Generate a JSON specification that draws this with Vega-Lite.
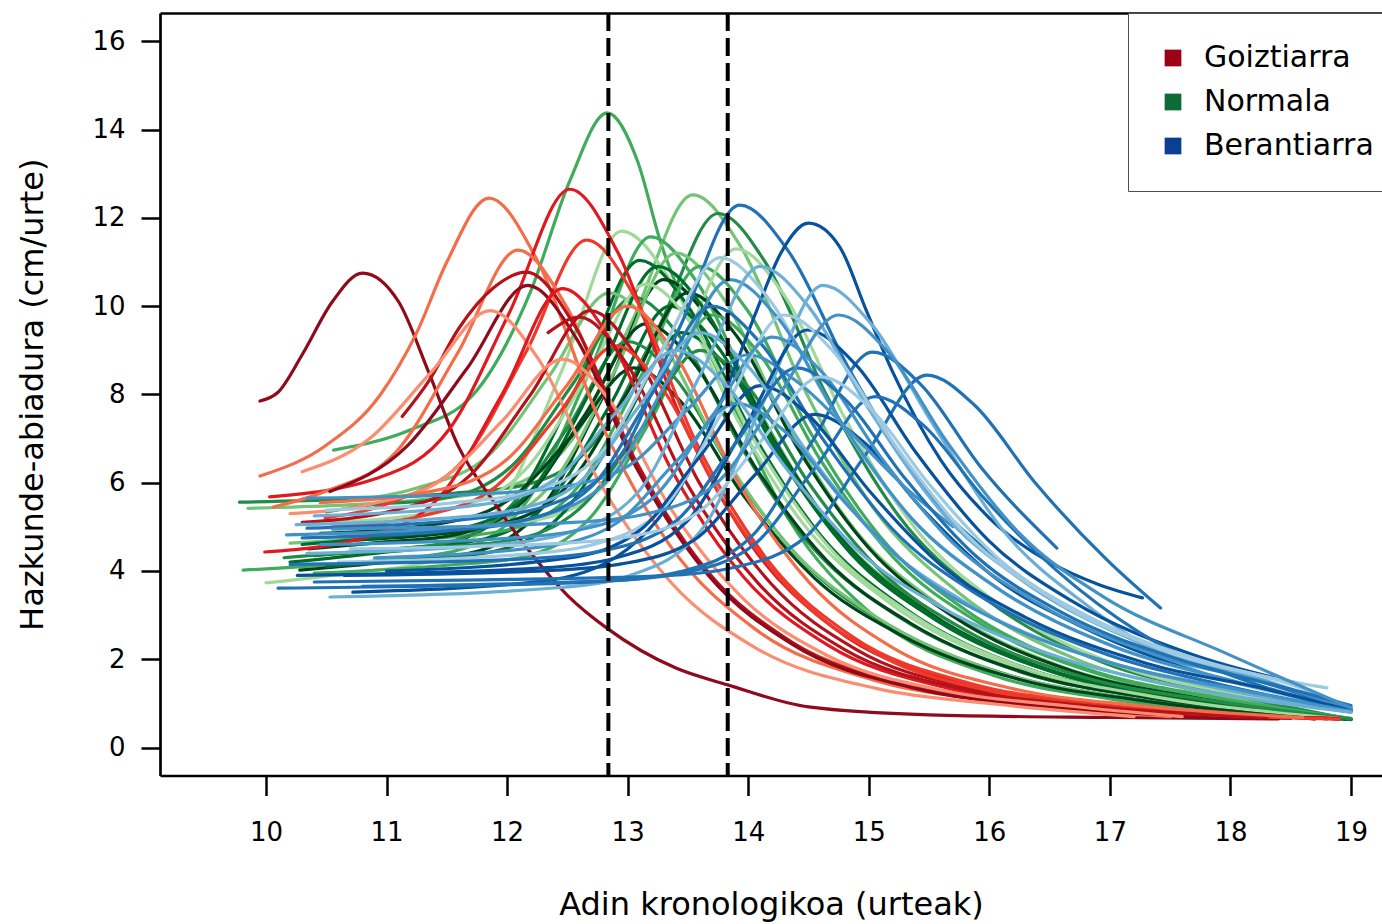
{
  "$schema": "https://vega.github.io/schema/vega-lite/v6.json",
  "width": 1222,
  "height": 762.5,
  "autosize": {"type": "none"},
  "padding": {"left": 160, "top": 13, "right": 0, "bottom": 148.5},
  "background": "white",
  "config": {"view": {"stroke": null}, "font": "DejaVu Sans"},
  "datasets": {
    "kurbak": [
      {"kurba":"G1","tonua":"n4","adina":10.56,"abiadura":6.74},{"kurba":"G1","tonua":"n4","adina":11.2,"abiadura":7.2},{"kurba":"G1","tonua":"n4","adina":11.72,"abiadura":8.0},{"kurba":"G1","tonua":"n4","adina":12.19,"abiadura":10.3},{"kurba":"G1","tonua":"n4","adina":12.52,"abiadura":12.84},{"kurba":"G1","tonua":"n4","adina":12.83,"abiadura":14.38},{"kurba":"G1","tonua":"n4","adina":13.08,"abiadura":13.3},{"kurba":"G1","tonua":"n4","adina":13.27,"abiadura":11.48},{"kurba":"G1","tonua":"n4","adina":13.73,"abiadura":8.63},{"kurba":"G1","tonua":"n4","adina":14.33,"abiadura":5.2},{"kurba":"G1","tonua":"n4","adina":15.03,"abiadura":3.01},{"kurba":"G1","tonua":"n4","adina":16.03,"abiadura":1.64},{"kurba":"G1","tonua":"n4","adina":17.03,"abiadura":1.09},{"kurba":"G1","tonua":"n4","adina":18.9,"abiadura":0.68},
      {"kurba":"G2","tonua":"n5","adina":9.85,"abiadura":5.42},{"kurba":"G2","tonua":"n5","adina":11.34,"abiadura":5.63},{"kurba":"G2","tonua":"n5","adina":11.94,"abiadura":5.85},{"kurba":"G2","tonua":"n5","adina":12.54,"abiadura":6.98},{"kurba":"G2","tonua":"n5","adina":13.04,"abiadura":9.68},{"kurba":"G2","tonua":"n5","adina":13.54,"abiadura":12.52},{"kurba":"G2","tonua":"n5","adina":13.94,"abiadura":11.34},{"kurba":"G2","tonua":"n5","adina":14.44,"abiadura":8.26},{"kurba":"G2","tonua":"n5","adina":15.04,"abiadura":5.42},{"kurba":"G2","tonua":"n5","adina":15.74,"abiadura":3.52},{"kurba":"G2","tonua":"n5","adina":16.74,"abiadura":1.98},{"kurba":"G2","tonua":"n5","adina":17.74,"abiadura":1.27},{"kurba":"G2","tonua":"n5","adina":19.0,"abiadura":0.65},
      {"kurba":"G3","tonua":"n3","adina":9.78,"abiadura":5.56},{"kurba":"G3","tonua":"n3","adina":11.55,"abiadura":5.76},{"kurba":"G3","tonua":"n3","adina":12.15,"abiadura":5.95},{"kurba":"G3","tonua":"n3","adina":12.75,"abiadura":7.0},{"kurba":"G3","tonua":"n3","adina":13.25,"abiadura":9.48},{"kurba":"G3","tonua":"n3","adina":13.75,"abiadura":12.1},{"kurba":"G3","tonua":"n3","adina":14.15,"abiadura":10.96},{"kurba":"G3","tonua":"n3","adina":14.65,"abiadura":7.98},{"kurba":"G3","tonua":"n3","adina":15.25,"abiadura":5.24},{"kurba":"G3","tonua":"n3","adina":15.95,"abiadura":3.41},{"kurba":"G3","tonua":"n3","adina":16.95,"abiadura":1.92},{"kurba":"G3","tonua":"n3","adina":17.95,"abiadura":1.23},{"kurba":"G3","tonua":"n3","adina":19.0,"abiadura":0.64},
      {"kurba":"G4","tonua":"n6","adina":10.0,"abiadura":3.73},{"kurba":"G4","tonua":"n6","adina":10.75,"abiadura":3.97},{"kurba":"G4","tonua":"n6","adina":11.35,"abiadura":4.21},{"kurba":"G4","tonua":"n6","adina":11.95,"abiadura":5.48},{"kurba":"G4","tonua":"n6","adina":12.45,"abiadura":8.51},{"kurba":"G4","tonua":"n6","adina":12.95,"abiadura":11.7},{"kurba":"G4","tonua":"n6","adina":13.35,"abiadura":10.6},{"kurba":"G4","tonua":"n6","adina":13.85,"abiadura":7.73},{"kurba":"G4","tonua":"n6","adina":14.45,"abiadura":5.09},{"kurba":"G4","tonua":"n6","adina":15.15,"abiadura":3.32},{"kurba":"G4","tonua":"n6","adina":16.15,"abiadura":1.89},{"kurba":"G4","tonua":"n6","adina":17.15,"abiadura":1.23},{"kurba":"G4","tonua":"n6","adina":18.8,"abiadura":0.68},
      {"kurba":"G5","tonua":"n4","adina":9.81,"abiadura":4.02},{"kurba":"G5","tonua":"n4","adina":10.99,"abiadura":4.25},{"kurba":"G5","tonua":"n4","adina":11.59,"abiadura":4.47},{"kurba":"G5","tonua":"n4","adina":12.19,"abiadura":5.68},{"kurba":"G5","tonua":"n4","adina":12.69,"abiadura":8.55},{"kurba":"G5","tonua":"n4","adina":13.19,"abiadura":11.57},{"kurba":"G5","tonua":"n4","adina":13.59,"abiadura":10.48},{"kurba":"G5","tonua":"n4","adina":14.09,"abiadura":7.64},{"kurba":"G5","tonua":"n4","adina":14.69,"abiadura":5.02},{"kurba":"G5","tonua":"n4","adina":15.39,"abiadura":3.28},{"kurba":"G5","tonua":"n4","adina":16.39,"abiadura":1.86},{"kurba":"G5","tonua":"n4","adina":17.39,"abiadura":1.21},{"kurba":"G5","tonua":"n4","adina":18.95,"abiadura":0.64},
      {"kurba":"G6","tonua":"n2","adina":10.2,"abiadura":4.2},{"kurba":"G6","tonua":"n2","adina":10.9,"abiadura":4.4},{"kurba":"G6","tonua":"n2","adina":11.5,"abiadura":4.61},{"kurba":"G6","tonua":"n2","adina":12.1,"abiadura":5.7},{"kurba":"G6","tonua":"n2","adina":12.6,"abiadura":8.3},{"kurba":"G6","tonua":"n2","adina":13.1,"abiadura":11.04},{"kurba":"G6","tonua":"n2","adina":13.5,"abiadura":10.0},{"kurba":"G6","tonua":"n2","adina":14.0,"abiadura":7.3},{"kurba":"G6","tonua":"n2","adina":14.6,"abiadura":4.81},{"kurba":"G6","tonua":"n2","adina":15.3,"abiadura":3.15},{"kurba":"G6","tonua":"n2","adina":16.3,"abiadura":1.8},{"kurba":"G6","tonua":"n2","adina":17.3,"abiadura":1.18},{"kurba":"G6","tonua":"n2","adina":18.9,"abiadura":0.64},
      {"kurba":"G7","tonua":"n1","adina":10.28,"abiadura":4.02},{"kurba":"G7","tonua":"n1","adina":11.1,"abiadura":4.22},{"kurba":"G7","tonua":"n1","adina":11.7,"abiadura":4.41},{"kurba":"G7","tonua":"n1","adina":12.3,"abiadura":5.47},{"kurba":"G7","tonua":"n1","adina":12.8,"abiadura":7.97},{"kurba":"G7","tonua":"n1","adina":13.3,"abiadura":10.6},{"kurba":"G7","tonua":"n1","adina":13.7,"abiadura":9.61},{"kurba":"G7","tonua":"n1","adina":14.2,"abiadura":7.02},{"kurba":"G7","tonua":"n1","adina":14.8,"abiadura":4.64},{"kurba":"G7","tonua":"n1","adina":15.5,"abiadura":3.05},{"kurba":"G7","tonua":"n1","adina":16.5,"abiadura":1.75},{"kurba":"G7","tonua":"n1","adina":17.5,"abiadura":1.16},{"kurba":"G7","tonua":"n1","adina":18.95,"abiadura":0.64},
      {"kurba":"G8","tonua":"n3","adina":10.5,"abiadura":5.34},{"kurba":"G8","tonua":"n3","adina":10.85,"abiadura":5.49},{"kurba":"G8","tonua":"n3","adina":11.45,"abiadura":5.63},{"kurba":"G8","tonua":"n3","adina":12.05,"abiadura":6.41},{"kurba":"G8","tonua":"n3","adina":12.55,"abiadura":8.26},{"kurba":"G8","tonua":"n3","adina":13.05,"abiadura":10.2},{"kurba":"G8","tonua":"n3","adina":13.45,"abiadura":9.25},{"kurba":"G8","tonua":"n3","adina":13.95,"abiadura":6.77},{"kurba":"G8","tonua":"n3","adina":14.55,"abiadura":4.48},{"kurba":"G8","tonua":"n3","adina":15.25,"abiadura":2.96},{"kurba":"G8","tonua":"n3","adina":16.25,"abiadura":1.72},{"kurba":"G8","tonua":"n3","adina":17.25,"abiadura":1.15},{"kurba":"G8","tonua":"n3","adina":18.9,"abiadura":0.65},
      {"kurba":"G9","tonua":"n5","adina":10.2,"abiadura":4.63},{"kurba":"G9","tonua":"n5","adina":11.2,"abiadura":4.83},{"kurba":"G9","tonua":"n5","adina":11.8,"abiadura":5.02},{"kurba":"G9","tonua":"n5","adina":12.4,"abiadura":6.08},{"kurba":"G9","tonua":"n5","adina":12.9,"abiadura":8.57},{"kurba":"G9","tonua":"n5","adina":13.4,"abiadura":11.2},{"kurba":"G9","tonua":"n5","adina":13.8,"abiadura":10.15},{"kurba":"G9","tonua":"n5","adina":14.3,"abiadura":7.41},{"kurba":"G9","tonua":"n5","adina":14.9,"abiadura":4.88},{"kurba":"G9","tonua":"n5","adina":15.6,"abiadura":3.2},{"kurba":"G9","tonua":"n5","adina":16.6,"abiadura":1.83},{"kurba":"G9","tonua":"n5","adina":17.6,"abiadura":1.2},{"kurba":"G9","tonua":"n5","adina":19.0,"abiadura":0.65},
      {"kurba":"G10","tonua":"n2","adina":10.4,"abiadura":4.35},{"kurba":"G10","tonua":"n2","adina":11.15,"abiadura":4.52},{"kurba":"G10","tonua":"n2","adina":11.75,"abiadura":4.69},{"kurba":"G10","tonua":"n2","adina":12.35,"abiadura":5.59},{"kurba":"G10","tonua":"n2","adina":12.85,"abiadura":7.74},{"kurba":"G10","tonua":"n2","adina":13.35,"abiadura":10.0},{"kurba":"G10","tonua":"n2","adina":13.75,"abiadura":9.07},{"kurba":"G10","tonua":"n2","adina":14.25,"abiadura":6.64},{"kurba":"G10","tonua":"n2","adina":14.85,"abiadura":4.4},{"kurba":"G10","tonua":"n2","adina":15.55,"abiadura":2.9},{"kurba":"G10","tonua":"n2","adina":16.55,"abiadura":1.69},{"kurba":"G10","tonua":"n2","adina":17.55,"abiadura":1.13},{"kurba":"G10","tonua":"n2","adina":18.9,"abiadura":0.64},
      {"kurba":"G11","tonua":"n4","adina":10.45,"abiadura":4.55},{"kurba":"G11","tonua":"n4","adina":11.4,"abiadura":4.74},{"kurba":"G11","tonua":"n4","adina":12.0,"abiadura":4.93},{"kurba":"G11","tonua":"n4","adina":12.6,"abiadura":5.95},{"kurba":"G11","tonua":"n4","adina":13.1,"abiadura":8.36},{"kurba":"G11","tonua":"n4","adina":13.6,"abiadura":10.9},{"kurba":"G11","tonua":"n4","adina":14.0,"abiadura":9.88},{"kurba":"G11","tonua":"n4","adina":14.5,"abiadura":7.21},{"kurba":"G11","tonua":"n4","adina":15.1,"abiadura":4.76},{"kurba":"G11","tonua":"n4","adina":15.8,"abiadura":3.12},{"kurba":"G11","tonua":"n4","adina":16.8,"abiadura":1.79},{"kurba":"G11","tonua":"n4","adina":17.8,"abiadura":1.17},{"kurba":"G11","tonua":"n4","adina":19.0,"abiadura":0.64},
      {"kurba":"G12","tonua":"n1","adina":10.35,"abiadura":4.5},{"kurba":"G12","tonua":"n1","adina":10.95,"abiadura":4.65},{"kurba":"G12","tonua":"n1","adina":11.55,"abiadura":4.81},{"kurba":"G12","tonua":"n1","adina":12.15,"abiadura":5.62},{"kurba":"G12","tonua":"n1","adina":12.65,"abiadura":7.56},{"kurba":"G12","tonua":"n1","adina":13.15,"abiadura":9.6},{"kurba":"G12","tonua":"n1","adina":13.55,"abiadura":8.71},{"kurba":"G12","tonua":"n1","adina":14.05,"abiadura":6.39},{"kurba":"G12","tonua":"n1","adina":14.65,"abiadura":4.24},{"kurba":"G12","tonua":"n1","adina":15.35,"abiadura":2.81},{"kurba":"G12","tonua":"n1","adina":16.35,"abiadura":1.65},{"kurba":"G12","tonua":"n1","adina":17.35,"abiadura":1.12},{"kurba":"G12","tonua":"n1","adina":18.8,"abiadura":0.65},
      {"kurba":"G13","tonua":"n6","adina":10.6,"abiadura":4.8},{"kurba":"G13","tonua":"n6","adina":11.7,"abiadura":5.0},{"kurba":"G13","tonua":"n6","adina":12.3,"abiadura":5.19},{"kurba":"G13","tonua":"n6","adina":12.9,"abiadura":6.23},{"kurba":"G13","tonua":"n6","adina":13.4,"abiadura":8.7},{"kurba":"G13","tonua":"n6","adina":13.9,"abiadura":11.3},{"kurba":"G13","tonua":"n6","adina":14.3,"abiadura":10.24},{"kurba":"G13","tonua":"n6","adina":14.8,"abiadura":7.47},{"kurba":"G13","tonua":"n6","adina":15.4,"abiadura":4.92},{"kurba":"G13","tonua":"n6","adina":16.1,"abiadura":3.21},{"kurba":"G13","tonua":"n6","adina":17.1,"abiadura":1.83},{"kurba":"G13","tonua":"n6","adina":18.1,"abiadura":1.19},{"kurba":"G13","tonua":"n6","adina":19.0,"abiadura":0.8},
      {"kurba":"G14","tonua":"n3","adina":10.15,"abiadura":4.3},{"kurba":"G14","tonua":"n3","adina":10.8,"abiadura":4.45},{"kurba":"G14","tonua":"n3","adina":11.4,"abiadura":4.59},{"kurba":"G14","tonua":"n3","adina":12.0,"abiadura":5.38},{"kurba":"G14","tonua":"n3","adina":12.5,"abiadura":7.24},{"kurba":"G14","tonua":"n3","adina":13.0,"abiadura":9.2},{"kurba":"G14","tonua":"n3","adina":13.4,"abiadura":8.35},{"kurba":"G14","tonua":"n3","adina":13.9,"abiadura":6.13},{"kurba":"G14","tonua":"n3","adina":14.5,"abiadura":4.08},{"kurba":"G14","tonua":"n3","adina":15.2,"abiadura":2.72},{"kurba":"G14","tonua":"n3","adina":16.2,"abiadura":1.61},{"kurba":"G14","tonua":"n3","adina":17.2,"abiadura":1.1},{"kurba":"G14","tonua":"n3","adina":18.7,"abiadura":0.65},
      {"kurba":"G15","tonua":"n2","adina":10.5,"abiadura":4.1},{"kurba":"G15","tonua":"n2","adina":11.25,"abiadura":4.26},{"kurba":"G15","tonua":"n2","adina":11.85,"abiadura":4.42},{"kurba":"G15","tonua":"n2","adina":12.45,"abiadura":5.27},{"kurba":"G15","tonua":"n2","adina":12.95,"abiadura":7.28},{"kurba":"G15","tonua":"n2","adina":13.45,"abiadura":9.4},{"kurba":"G15","tonua":"n2","adina":13.85,"abiadura":8.53},{"kurba":"G15","tonua":"n2","adina":14.35,"abiadura":6.25},{"kurba":"G15","tonua":"n2","adina":14.95,"abiadura":4.16},{"kurba":"G15","tonua":"n2","adina":15.65,"abiadura":2.76},{"kurba":"G15","tonua":"n2","adina":16.65,"abiadura":1.62},{"kurba":"G15","tonua":"n2","adina":17.65,"abiadura":1.1},{"kurba":"G15","tonua":"n2","adina":19.0,"abiadura":0.64},
      {"kurba":"G16","tonua":"n5","adina":10.7,"abiadura":5.6},{"kurba":"G16","tonua":"n5","adina":11.25,"abiadura":5.88},{"kurba":"G16","tonua":"n5","adina":11.85,"abiadura":6.63},{"kurba":"G16","tonua":"n5","adina":12.35,"abiadura":8.42},{"kurba":"G16","tonua":"n5","adina":12.85,"abiadura":10.3},{"kurba":"G16","tonua":"n5","adina":13.25,"abiadura":9.34},{"kurba":"G16","tonua":"n5","adina":13.75,"abiadura":6.83},{"kurba":"G16","tonua":"n5","adina":14.35,"abiadura":4.52},{"kurba":"G16","tonua":"n5","adina":15.05,"abiadura":2.98},{"kurba":"G16","tonua":"n5","adina":16.05,"abiadura":1.73},{"kurba":"G16","tonua":"n5","adina":17.05,"abiadura":1.15},{"kurba":"G16","tonua":"n5","adina":18.6,"abiadura":0.66},
      {"kurba":"G17","tonua":"n1","adina":10.75,"abiadura":4.7},{"kurba":"G17","tonua":"n1","adina":11.9,"abiadura":5.04},{"kurba":"G17","tonua":"n1","adina":12.5,"abiadura":5.93},{"kurba":"G17","tonua":"n1","adina":13.0,"abiadura":8.06},{"kurba":"G17","tonua":"n1","adina":13.5,"abiadura":10.3},{"kurba":"G17","tonua":"n1","adina":13.9,"abiadura":9.34},{"kurba":"G17","tonua":"n1","adina":14.4,"abiadura":6.83},{"kurba":"G17","tonua":"n1","adina":15.0,"abiadura":4.52},{"kurba":"G17","tonua":"n1","adina":15.7,"abiadura":2.97},{"kurba":"G17","tonua":"n1","adina":16.7,"abiadura":1.72},{"kurba":"G17","tonua":"n1","adina":17.7,"abiadura":1.14},{"kurba":"G17","tonua":"n1","adina":19.0,"abiadura":0.64},
      {"kurba":"G18","tonua":"n4","adina":10.4,"abiadura":3.95},{"kurba":"G18","tonua":"n4","adina":11.5,"abiadura":4.13},{"kurba":"G18","tonua":"n4","adina":12.1,"abiadura":4.3},{"kurba":"G18","tonua":"n4","adina":12.7,"abiadura":5.24},{"kurba":"G18","tonua":"n4","adina":13.2,"abiadura":7.46},{"kurba":"G18","tonua":"n4","adina":13.7,"abiadura":9.8},{"kurba":"G18","tonua":"n4","adina":14.1,"abiadura":8.89},{"kurba":"G18","tonua":"n4","adina":14.6,"abiadura":6.51},{"kurba":"G18","tonua":"n4","adina":15.2,"abiadura":4.32},{"kurba":"G18","tonua":"n4","adina":15.9,"abiadura":2.85},{"kurba":"G18","tonua":"n4","adina":16.9,"abiadura":1.67},{"kurba":"G18","tonua":"n4","adina":17.9,"abiadura":1.12},{"kurba":"G18","tonua":"n4","adina":19.0,"abiadura":0.66},
      {"kurba":"G19","tonua":"n2","adina":10.3,"abiadura":4.6},{"kurba":"G19","tonua":"n2","adina":11.05,"abiadura":4.79},{"kurba":"G19","tonua":"n2","adina":11.65,"abiadura":4.98},{"kurba":"G19","tonua":"n2","adina":12.25,"abiadura":5.99},{"kurba":"G19","tonua":"n2","adina":12.75,"abiadura":8.38},{"kurba":"G19","tonua":"n2","adina":13.25,"abiadura":10.9},{"kurba":"G19","tonua":"n2","adina":13.65,"abiadura":9.88},{"kurba":"G19","tonua":"n2","adina":14.15,"abiadura":7.21},{"kurba":"G19","tonua":"n2","adina":14.75,"abiadura":4.76},{"kurba":"G19","tonua":"n2","adina":15.45,"abiadura":3.12},{"kurba":"G19","tonua":"n2","adina":16.45,"abiadura":1.79},{"kurba":"G19","tonua":"n2","adina":17.45,"abiadura":1.17},{"kurba":"G19","tonua":"n2","adina":19.0,"abiadura":0.63},
      {"kurba":"G20","tonua":"n3","adina":10.65,"abiadura":4.4},{"kurba":"G20","tonua":"n3","adina":11.4,"abiadura":4.54},{"kurba":"G20","tonua":"n3","adina":12.0,"abiadura":4.68},{"kurba":"G20","tonua":"n3","adina":12.6,"abiadura":5.41},{"kurba":"G20","tonua":"n3","adina":13.1,"abiadura":7.16},{"kurba":"G20","tonua":"n3","adina":13.6,"abiadura":9.0},{"kurba":"G20","tonua":"n3","adina":14.0,"abiadura":8.17},{"kurba":"G20","tonua":"n3","adina":14.5,"abiadura":6.0},{"kurba":"G20","tonua":"n3","adina":15.1,"abiadura":4.0},{"kurba":"G20","tonua":"n3","adina":15.8,"abiadura":2.66},{"kurba":"G20","tonua":"n3","adina":16.8,"abiadura":1.58},{"kurba":"G20","tonua":"n3","adina":17.8,"abiadura":1.08},{"kurba":"G20","tonua":"n3","adina":19.0,"abiadura":0.65},
      {"kurba":"G21","tonua":"n6","adina":10.55,"abiadura":5.1},{"kurba":"G21","tonua":"n6","adina":11.55,"abiadura":5.42},{"kurba":"G21","tonua":"n6","adina":12.15,"abiadura":6.29},{"kurba":"G21","tonua":"n6","adina":12.65,"abiadura":8.34},{"kurba":"G21","tonua":"n6","adina":13.15,"abiadura":10.5},{"kurba":"G21","tonua":"n6","adina":13.55,"abiadura":9.52},{"kurba":"G21","tonua":"n6","adina":14.05,"abiadura":6.96},{"kurba":"G21","tonua":"n6","adina":14.65,"abiadura":4.6},{"kurba":"G21","tonua":"n6","adina":15.35,"abiadura":3.03},{"kurba":"G21","tonua":"n6","adina":16.35,"abiadura":1.75},{"kurba":"G21","tonua":"n6","adina":17.35,"abiadura":1.16},{"kurba":"G21","tonua":"n6","adina":18.9,"abiadura":0.66},
      {"kurba":"G22","tonua":"n1","adina":10.45,"abiadura":4.85},{"kurba":"G22","tonua":"n1","adina":11.45,"abiadura":5.08},{"kurba":"G22","tonua":"n1","adina":12.05,"abiadura":5.68},{"kurba":"G22","tonua":"n1","adina":12.55,"abiadura":7.1},{"kurba":"G22","tonua":"n1","adina":13.05,"abiadura":8.6},{"kurba":"G22","tonua":"n1","adina":13.45,"abiadura":7.81},{"kurba":"G22","tonua":"n1","adina":13.95,"abiadura":5.75},{"kurba":"G22","tonua":"n1","adina":14.55,"abiadura":3.84},{"kurba":"G22","tonua":"n1","adina":15.25,"abiadura":2.57},{"kurba":"G22","tonua":"n1","adina":16.25,"abiadura":1.54},{"kurba":"G22","tonua":"n1","adina":17.25,"abiadura":1.07},{"kurba":"G22","tonua":"n1","adina":18.7,"abiadura":0.65},

      {"kurba":"R1","tonua":"g1","adina":9.95,"abiadura":7.85},{"kurba":"R1","tonua":"g1","adina":10.1,"abiadura":8.05},{"kurba":"R1","tonua":"g1","adina":10.3,"abiadura":8.9},{"kurba":"R1","tonua":"g1","adina":10.55,"abiadura":10.1},{"kurba":"R1","tonua":"g1","adina":10.8,"abiadura":10.75},{"kurba":"R1","tonua":"g1","adina":11.1,"abiadura":10.1},{"kurba":"R1","tonua":"g1","adina":11.35,"abiadura":8.5},{"kurba":"R1","tonua":"g1","adina":11.6,"abiadura":6.8},{"kurba":"R1","tonua":"g1","adina":11.88,"abiadura":5.6},{"kurba":"R1","tonua":"g1","adina":12.19,"abiadura":4.43},{"kurba":"R1","tonua":"g1","adina":12.5,"abiadura":3.45},{"kurba":"R1","tonua":"g1","adina":12.83,"abiadura":2.7},{"kurba":"R1","tonua":"g1","adina":13.4,"abiadura":1.8},{"kurba":"R1","tonua":"g1","adina":13.83,"abiadura":1.42},{"kurba":"R1","tonua":"g1","adina":14.5,"abiadura":0.92},{"kurba":"R1","tonua":"g1","adina":15.5,"abiadura":0.74},{"kurba":"R1","tonua":"g1","adina":17.0,"abiadura":0.68},{"kurba":"R1","tonua":"g1","adina":18.4,"abiadura":0.65},
      {"kurba":"R2","tonua":"g5","adina":9.95,"abiadura":6.15},{"kurba":"R2","tonua":"g5","adina":10.5,"abiadura":6.85},{"kurba":"R2","tonua":"g5","adina":10.95,"abiadura":8.0},{"kurba":"R2","tonua":"g5","adina":11.25,"abiadura":9.4},{"kurba":"R2","tonua":"g5","adina":11.5,"abiadura":11.0},{"kurba":"R2","tonua":"g5","adina":11.85,"abiadura":12.45},{"kurba":"R2","tonua":"g5","adina":12.25,"abiadura":11.04},{"kurba":"R2","tonua":"g5","adina":12.75,"abiadura":7.52},{"kurba":"R2","tonua":"g5","adina":13.35,"abiadura":4.58},{"kurba":"R2","tonua":"g5","adina":14.05,"abiadura":2.7},{"kurba":"R2","tonua":"g5","adina":15.05,"abiadura":1.52},{"kurba":"R2","tonua":"g5","adina":16.05,"abiadura":1.05},{"kurba":"R2","tonua":"g5","adina":17.5,"abiadura":0.7},
      {"kurba":"R3","tonua":"g3","adina":10.03,"abiadura":5.68},{"kurba":"R3","tonua":"g3","adina":10.92,"abiadura":6.1},{"kurba":"R3","tonua":"g3","adina":11.52,"abiadura":7.21},{"kurba":"R3","tonua":"g3","adina":12.02,"abiadura":9.86},{"kurba":"R3","tonua":"g3","adina":12.52,"abiadura":12.65},{"kurba":"R3","tonua":"g3","adina":12.92,"abiadura":11.21},{"kurba":"R3","tonua":"g3","adina":13.42,"abiadura":7.61},{"kurba":"R3","tonua":"g3","adina":14.02,"abiadura":4.61},{"kurba":"R3","tonua":"g3","adina":14.72,"abiadura":2.69},{"kurba":"R3","tonua":"g3","adina":15.72,"abiadura":1.49},{"kurba":"R3","tonua":"g3","adina":16.72,"abiadura":1.01},{"kurba":"R3","tonua":"g3","adina":17.7,"abiadura":0.78},{"kurba":"R3","tonua":"g3","adina":18.9,"abiadura":0.65},
      {"kurba":"R4","tonua":"g4","adina":10.49,"abiadura":5.2},{"kurba":"R4","tonua":"g4","adina":11.06,"abiadura":5.58},{"kurba":"R4","tonua":"g4","adina":11.66,"abiadura":6.59},{"kurba":"R4","tonua":"g4","adina":12.16,"abiadura":8.98},{"kurba":"R4","tonua":"g4","adina":12.66,"abiadura":11.5},{"kurba":"R4","tonua":"g4","adina":13.06,"abiadura":10.2},{"kurba":"R4","tonua":"g4","adina":13.56,"abiadura":6.96},{"kurba":"R4","tonua":"g4","adina":14.16,"abiadura":4.25},{"kurba":"R4","tonua":"g4","adina":14.86,"abiadura":2.52},{"kurba":"R4","tonua":"g4","adina":15.86,"abiadura":1.44},{"kurba":"R4","tonua":"g4","adina":16.86,"abiadura":1.0},{"kurba":"R4","tonua":"g4","adina":18.6,"abiadura":0.68},
      {"kurba":"R5","tonua":"g5","adina":10.06,"abiadura":5.45},{"kurba":"R5","tonua":"g5","adina":10.49,"abiadura":5.8},{"kurba":"R5","tonua":"g5","adina":11.09,"abiadura":6.73},{"kurba":"R5","tonua":"g5","adina":11.59,"abiadura":8.94},{"kurba":"R5","tonua":"g5","adina":12.09,"abiadura":11.27},{"kurba":"R5","tonua":"g5","adina":12.49,"abiadura":10.0},{"kurba":"R5","tonua":"g5","adina":12.99,"abiadura":6.84},{"kurba":"R5","tonua":"g5","adina":13.59,"abiadura":4.2},{"kurba":"R5","tonua":"g5","adina":14.29,"abiadura":2.51},{"kurba":"R5","tonua":"g5","adina":15.29,"abiadura":1.46},{"kurba":"R5","tonua":"g5","adina":16.29,"abiadura":1.04},{"kurba":"R5","tonua":"g5","adina":17.8,"abiadura":0.72},
      {"kurba":"R6","tonua":"g2","adina":11.13,"abiadura":7.5},{"kurba":"R6","tonua":"g2","adina":11.35,"abiadura":8.3},{"kurba":"R6","tonua":"g2","adina":11.6,"abiadura":9.5},{"kurba":"R6","tonua":"g2","adina":11.88,"abiadura":10.4},{"kurba":"R6","tonua":"g2","adina":12.16,"abiadura":10.77},{"kurba":"R6","tonua":"g2","adina":12.56,"abiadura":9.56},{"kurba":"R6","tonua":"g2","adina":13.06,"abiadura":6.53},{"kurba":"R6","tonua":"g2","adina":13.66,"abiadura":4.0},{"kurba":"R6","tonua":"g2","adina":14.36,"abiadura":2.39},{"kurba":"R6","tonua":"g2","adina":15.36,"abiadura":1.38},{"kurba":"R6","tonua":"g2","adina":16.36,"abiadura":0.97},{"kurba":"R6","tonua":"g2","adina":18.2,"abiadura":0.67},
      {"kurba":"R7","tonua":"g1","adina":10.53,"abiadura":5.8},{"kurba":"R7","tonua":"g1","adina":11.17,"abiadura":6.83},{"kurba":"R7","tonua":"g1","adina":11.67,"abiadura":8.6},{"kurba":"R7","tonua":"g1","adina":12.17,"abiadura":10.47},{"kurba":"R7","tonua":"g1","adina":12.57,"abiadura":9.29},{"kurba":"R7","tonua":"g1","adina":13.07,"abiadura":6.35},{"kurba":"R7","tonua":"g1","adina":13.67,"abiadura":3.9},{"kurba":"R7","tonua":"g1","adina":14.37,"abiadura":2.33},{"kurba":"R7","tonua":"g1","adina":15.37,"abiadura":1.35},{"kurba":"R7","tonua":"g1","adina":16.37,"abiadura":0.95},{"kurba":"R7","tonua":"g1","adina":18.5,"abiadura":0.66},
      {"kurba":"R8","tonua":"g6","adina":10.3,"abiadura":6.25},{"kurba":"R8","tonua":"g6","adina":10.86,"abiadura":7.0},{"kurba":"R8","tonua":"g6","adina":11.36,"abiadura":8.47},{"kurba":"R8","tonua":"g6","adina":11.86,"abiadura":9.9},{"kurba":"R8","tonua":"g6","adina":12.26,"abiadura":8.8},{"kurba":"R8","tonua":"g6","adina":12.76,"abiadura":6.04},{"kurba":"R8","tonua":"g6","adina":13.36,"abiadura":3.74},{"kurba":"R8","tonua":"g6","adina":14.06,"abiadura":2.26},{"kurba":"R8","tonua":"g6","adina":15.06,"abiadura":1.34},{"kurba":"R8","tonua":"g6","adina":16.06,"abiadura":0.98},{"kurba":"R8","tonua":"g6","adina":17.2,"abiadura":0.7},
      {"kurba":"R9","tonua":"g3","adina":9.99,"abiadura":4.43},{"kurba":"R9","tonua":"g3","adina":10.86,"abiadura":4.79},{"kurba":"R9","tonua":"g3","adina":11.46,"abiadura":5.74},{"kurba":"R9","tonua":"g3","adina":11.96,"abiadura":8.01},{"kurba":"R9","tonua":"g3","adina":12.46,"abiadura":10.4},{"kurba":"R9","tonua":"g3","adina":12.86,"abiadura":9.23},{"kurba":"R9","tonua":"g3","adina":13.36,"abiadura":6.31},{"kurba":"R9","tonua":"g3","adina":13.96,"abiadura":3.87},{"kurba":"R9","tonua":"g3","adina":14.66,"abiadura":2.32},{"kurba":"R9","tonua":"g3","adina":15.66,"abiadura":1.34},{"kurba":"R9","tonua":"g3","adina":16.66,"abiadura":0.95},{"kurba":"R9","tonua":"g3","adina":18.9,"abiadura":0.66},
      {"kurba":"R10","tonua":"g2","adina":10.3,"abiadura":5.1},{"kurba":"R10","tonua":"g2","adina":11.09,"abiadura":5.39},{"kurba":"R10","tonua":"g2","adina":11.69,"abiadura":6.16},{"kurba":"R10","tonua":"g2","adina":12.19,"abiadura":7.98},{"kurba":"R10","tonua":"g2","adina":12.69,"abiadura":9.9},{"kurba":"R10","tonua":"g2","adina":13.09,"abiadura":8.79},{"kurba":"R10","tonua":"g2","adina":13.59,"abiadura":6.02},{"kurba":"R10","tonua":"g2","adina":14.19,"abiadura":3.71},{"kurba":"R10","tonua":"g2","adina":14.89,"abiadura":2.23},{"kurba":"R10","tonua":"g2","adina":15.89,"abiadura":1.31},{"kurba":"R10","tonua":"g2","adina":16.89,"abiadura":0.94},{"kurba":"R10","tonua":"g2","adina":18.8,"abiadura":0.66},
      {"kurba":"R11","tonua":"g4","adina":10.55,"abiadura":5.0},{"kurba":"R11","tonua":"g4","adina":11.3,"abiadura":5.25},{"kurba":"R11","tonua":"g4","adina":11.9,"abiadura":5.9},{"kurba":"R11","tonua":"g4","adina":12.4,"abiadura":7.46},{"kurba":"R11","tonua":"g4","adina":12.9,"abiadura":9.1},{"kurba":"R11","tonua":"g4","adina":13.3,"abiadura":8.08},{"kurba":"R11","tonua":"g4","adina":13.8,"abiadura":5.55},{"kurba":"R11","tonua":"g4","adina":14.4,"abiadura":3.43},{"kurba":"R11","tonua":"g4","adina":15.1,"abiadura":2.08},{"kurba":"R11","tonua":"g4","adina":16.1,"abiadura":1.23},{"kurba":"R11","tonua":"g4","adina":17.1,"abiadura":0.89},{"kurba":"R11","tonua":"g4","adina":18.9,"abiadura":0.64},
      {"kurba":"R12","tonua":"g2","adina":12.34,"abiadura":9.4},{"kurba":"R12","tonua":"g2","adina":12.6,"abiadura":9.75},{"kurba":"R12","tonua":"g2","adina":13.0,"abiadura":8.66},{"kurba":"R12","tonua":"g2","adina":13.5,"abiadura":5.94},{"kurba":"R12","tonua":"g2","adina":14.1,"abiadura":3.67},{"kurba":"R12","tonua":"g2","adina":14.8,"abiadura":2.22},{"kurba":"R12","tonua":"g2","adina":15.8,"abiadura":1.31},{"kurba":"R12","tonua":"g2","adina":16.8,"abiadura":0.95},{"kurba":"R12","tonua":"g2","adina":18.3,"abiadura":0.68},
      {"kurba":"R13","tonua":"g6","adina":10.2,"abiadura":5.3},{"kurba":"R13","tonua":"g6","adina":10.86,"abiadura":5.51},{"kurba":"R13","tonua":"g6","adina":11.46,"abiadura":6.07},{"kurba":"R13","tonua":"g6","adina":11.96,"abiadura":7.4},{"kurba":"R13","tonua":"g6","adina":12.46,"abiadura":8.8},{"kurba":"R13","tonua":"g6","adina":12.86,"abiadura":7.83},{"kurba":"R13","tonua":"g6","adina":13.36,"abiadura":5.4},{"kurba":"R13","tonua":"g6","adina":13.96,"abiadura":3.37},{"kurba":"R13","tonua":"g6","adina":14.66,"abiadura":2.08},{"kurba":"R13","tonua":"g6","adina":15.66,"abiadura":1.27},{"kurba":"R13","tonua":"g6","adina":16.66,"abiadura":0.94},{"kurba":"R13","tonua":"g6","adina":17.6,"abiadura":0.7},
      {"kurba":"R14","tonua":"g5","adina":10.45,"abiadura":5.55},{"kurba":"R14","tonua":"g5","adina":11.4,"abiadura":5.82},{"kurba":"R14","tonua":"g5","adina":12.0,"abiadura":6.53},{"kurba":"R14","tonua":"g5","adina":12.5,"abiadura":8.22},{"kurba":"R14","tonua":"g5","adina":13.0,"abiadura":10.0},{"kurba":"R14","tonua":"g5","adina":13.4,"abiadura":8.88},{"kurba":"R14","tonua":"g5","adina":13.9,"abiadura":6.09},{"kurba":"R14","tonua":"g5","adina":14.5,"abiadura":3.76},{"kurba":"R14","tonua":"g5","adina":15.2,"abiadura":2.26},{"kurba":"R14","tonua":"g5","adina":16.2,"abiadura":1.33},{"kurba":"R14","tonua":"g5","adina":17.2,"abiadura":0.96},{"kurba":"R14","tonua":"g5","adina":18.6,"abiadura":0.68},

      {"kurba":"B1","tonua":"b2","adina":10.34,"abiadura":4.97},{"kurba":"B1","tonua":"b2","adina":11.73,"abiadura":5.19},{"kurba":"B1","tonua":"b2","adina":12.33,"abiadura":5.48},{"kurba":"B1","tonua":"b2","adina":12.93,"abiadura":6.58},{"kurba":"B1","tonua":"b2","adina":13.43,"abiadura":9.51},{"kurba":"B1","tonua":"b2","adina":13.93,"abiadura":12.29},{"kurba":"B1","tonua":"b2","adina":14.33,"abiadura":11.26},{"kurba":"B1","tonua":"b2","adina":14.83,"abiadura":8.61},{"kurba":"B1","tonua":"b2","adina":15.43,"abiadura":5.97},{"kurba":"B1","tonua":"b2","adina":16.13,"abiadura":4.13},{"kurba":"B1","tonua":"b2","adina":17.13,"abiadura":2.52},{"kurba":"B1","tonua":"b2","adina":18.13,"abiadura":1.6},{"kurba":"B1","tonua":"b2","adina":19.0,"abiadura":0.85},
      {"kurba":"B2","tonua":"b1","adina":10.72,"abiadura":3.52},{"kurba":"B2","tonua":"b1","adina":12.3,"abiadura":3.77},{"kurba":"B2","tonua":"b1","adina":13.0,"abiadura":4.5},{"kurba":"B2","tonua":"b1","adina":13.5,"abiadura":6.2},{"kurba":"B2","tonua":"b1","adina":13.8,"abiadura":8.0},{"kurba":"B2","tonua":"b1","adina":14.07,"abiadura":9.9},{"kurba":"B2","tonua":"b1","adina":14.27,"abiadura":11.2},{"kurba":"B2","tonua":"b1","adina":14.5,"abiadura":11.88},{"kurba":"B2","tonua":"b1","adina":14.76,"abiadura":11.34},{"kurba":"B2","tonua":"b1","adina":14.98,"abiadura":9.9},{"kurba":"B2","tonua":"b1","adina":15.2,"abiadura":8.5},{"kurba":"B2","tonua":"b1","adina":15.6,"abiadura":6.5},{"kurba":"B2","tonua":"b1","adina":16.0,"abiadura":5.2},{"kurba":"B2","tonua":"b1","adina":16.5,"abiadura":4.2},{"kurba":"B2","tonua":"b1","adina":16.9,"abiadura":3.7},{"kurba":"B2","tonua":"b1","adina":17.27,"abiadura":3.39},
      {"kurba":"B3","tonua":"b4","adina":10.53,"abiadura":3.41},{"kurba":"B3","tonua":"b4","adina":12.42,"abiadura":3.62},{"kurba":"B3","tonua":"b4","adina":13.02,"abiadura":3.9},{"kurba":"B3","tonua":"b4","adina":13.62,"abiadura":4.96},{"kurba":"B3","tonua":"b4","adina":14.12,"abiadura":7.79},{"kurba":"B3","tonua":"b4","adina":14.62,"abiadura":10.47},{"kurba":"B3","tonua":"b4","adina":15.02,"abiadura":9.6},{"kurba":"B3","tonua":"b4","adina":15.52,"abiadura":7.38},{"kurba":"B3","tonua":"b4","adina":16.12,"abiadura":4.9},{"kurba":"B3","tonua":"b4","adina":16.82,"abiadura":3.2},{"kurba":"B3","tonua":"b4","adina":17.5,"abiadura":2.0},{"kurba":"B3","tonua":"b4","adina":18.29,"abiadura":1.3},
      {"kurba":"B4","tonua":"b2","adina":10.1,"abiadura":3.61},{"kurba":"B4","tonua":"b2","adina":11.5,"abiadura":3.66},{"kurba":"B4","tonua":"b2","adina":12.83,"abiadura":3.77},{"kurba":"B4","tonua":"b2","adina":13.43,"abiadura":3.98},{"kurba":"B4","tonua":"b2","adina":14.03,"abiadura":4.79},{"kurba":"B4","tonua":"b2","adina":14.53,"abiadura":6.93},{"kurba":"B4","tonua":"b2","adina":15.03,"abiadura":8.96},{"kurba":"B4","tonua":"b2","adina":15.43,"abiadura":8.23},{"kurba":"B4","tonua":"b2","adina":15.93,"abiadura":6.35},{"kurba":"B4","tonua":"b2","adina":16.56,"abiadura":4.52},
      {"kurba":"B5","tonua":"b2","adina":10.4,"abiadura":3.75},{"kurba":"B5","tonua":"b2","adina":11.8,"abiadura":3.8},{"kurba":"B5","tonua":"b2","adina":13.28,"abiadura":3.89},{"kurba":"B5","tonua":"b2","adina":13.88,"abiadura":4.08},{"kurba":"B5","tonua":"b2","adina":14.48,"abiadura":4.78},{"kurba":"B5","tonua":"b2","adina":14.98,"abiadura":6.66},{"kurba":"B5","tonua":"b2","adina":15.48,"abiadura":8.44},{"kurba":"B5","tonua":"b2","adina":15.88,"abiadura":7.75},{"kurba":"B5","tonua":"b2","adina":16.38,"abiadura":6.0},{"kurba":"B5","tonua":"b2","adina":16.98,"abiadura":4.24},{"kurba":"B5","tonua":"b2","adina":17.42,"abiadura":3.16},
      {"kurba":"B6","tonua":"b1","adina":10.26,"abiadura":3.9},{"kurba":"B6","tonua":"b1","adina":12.29,"abiadura":4.07},{"kurba":"B6","tonua":"b1","adina":12.89,"abiadura":4.29},{"kurba":"B6","tonua":"b1","adina":13.49,"abiadura":5.12},{"kurba":"B6","tonua":"b1","adina":13.99,"abiadura":7.35},{"kurba":"B6","tonua":"b1","adina":14.49,"abiadura":9.46},{"kurba":"B6","tonua":"b1","adina":14.89,"abiadura":8.68},{"kurba":"B6","tonua":"b1","adina":15.39,"abiadura":6.69},{"kurba":"B6","tonua":"b1","adina":15.99,"abiadura":4.7},{"kurba":"B6","tonua":"b1","adina":16.69,"abiadura":3.31},{"kurba":"B6","tonua":"b1","adina":17.69,"abiadura":2.1},{"kurba":"B6","tonua":"b1","adina":18.55,"abiadura":1.46},
      {"kurba":"B7","tonua":"b2","adina":10.8,"abiadura":3.65},{"kurba":"B7","tonua":"b2","adina":12.85,"abiadura":3.78},{"kurba":"B7","tonua":"b2","adina":13.45,"abiadura":3.95},{"kurba":"B7","tonua":"b2","adina":14.05,"abiadura":4.6},{"kurba":"B7","tonua":"b2","adina":14.55,"abiadura":6.32},{"kurba":"B7","tonua":"b2","adina":15.05,"abiadura":7.95},{"kurba":"B7","tonua":"b2","adina":15.45,"abiadura":7.31},{"kurba":"B7","tonua":"b2","adina":15.95,"abiadura":5.67},{"kurba":"B7","tonua":"b2","adina":16.55,"abiadura":4.03},{"kurba":"B7","tonua":"b2","adina":17.25,"abiadura":2.6},{"kurba":"B7","tonua":"b2","adina":18.25,"abiadura":1.4},{"kurba":"B7","tonua":"b2","adina":19.0,"abiadura":0.88},
      {"kurba":"B8","tonua":"b1","adina":10.65,"abiadura":3.9},{"kurba":"B8","tonua":"b1","adina":12.35,"abiadura":4.01},{"kurba":"B8","tonua":"b1","adina":12.95,"abiadura":4.16},{"kurba":"B8","tonua":"b1","adina":13.55,"abiadura":4.7},{"kurba":"B8","tonua":"b1","adina":14.05,"abiadura":6.16},{"kurba":"B8","tonua":"b1","adina":14.55,"abiadura":7.55},{"kurba":"B8","tonua":"b1","adina":14.95,"abiadura":6.94},{"kurba":"B8","tonua":"b1","adina":15.45,"abiadura":5.39},{"kurba":"B8","tonua":"b1","adina":16.05,"abiadura":3.84},{"kurba":"B8","tonua":"b1","adina":16.75,"abiadura":2.76},{"kurba":"B8","tonua":"b1","adina":17.83,"abiadura":1.6},
      {"kurba":"B9","tonua":"b3","adina":10.34,"abiadura":5.65},{"kurba":"B9","tonua":"b3","adina":11.8,"abiadura":5.75},{"kurba":"B9","tonua":"b3","adina":12.4,"abiadura":5.88},{"kurba":"B9","tonua":"b3","adina":13.0,"abiadura":6.37},{"kurba":"B9","tonua":"b3","adina":13.5,"abiadura":7.67},{"kurba":"B9","tonua":"b3","adina":14.0,"abiadura":8.9},{"kurba":"B9","tonua":"b3","adina":14.4,"abiadura":8.3},{"kurba":"B9","tonua":"b3","adina":14.9,"abiadura":7.0},{"kurba":"B9","tonua":"b3","adina":15.3,"abiadura":5.9},{"kurba":"B9","tonua":"b3","adina":15.7,"abiadura":5.0},
      {"kurba":"B10","tonua":"b5","adina":10.5,"abiadura":5.38},{"kurba":"B10","tonua":"b5","adina":11.57,"abiadura":5.55},{"kurba":"B10","tonua":"b5","adina":12.17,"abiadura":5.78},{"kurba":"B10","tonua":"b5","adina":12.77,"abiadura":6.64},{"kurba":"B10","tonua":"b5","adina":13.27,"abiadura":8.93},{"kurba":"B10","tonua":"b5","adina":13.77,"abiadura":11.1},{"kurba":"B10","tonua":"b5","adina":14.17,"abiadura":10.17},{"kurba":"B10","tonua":"b5","adina":14.67,"abiadura":7.8},{"kurba":"B10","tonua":"b5","adina":15.27,"abiadura":5.44},{"kurba":"B10","tonua":"b5","adina":15.97,"abiadura":3.79},{"kurba":"B10","tonua":"b5","adina":16.97,"abiadura":2.35},{"kurba":"B10","tonua":"b5","adina":17.97,"abiadura":1.52},{"kurba":"B10","tonua":"b5","adina":19.0,"abiadura":0.85},
      {"kurba":"B11","tonua":"b3","adina":10.17,"abiadura":4.82},{"kurba":"B11","tonua":"b3","adina":11.65,"abiadura":4.99},{"kurba":"B11","tonua":"b3","adina":12.25,"abiadura":5.22},{"kurba":"B11","tonua":"b3","adina":12.85,"abiadura":6.09},{"kurba":"B11","tonua":"b3","adina":13.35,"abiadura":8.4},{"kurba":"B11","tonua":"b3","adina":13.85,"abiadura":10.6},{"kurba":"B11","tonua":"b3","adina":14.25,"abiadura":9.72},{"kurba":"B11","tonua":"b3","adina":14.75,"abiadura":7.46},{"kurba":"B11","tonua":"b3","adina":15.35,"abiadura":5.21},{"kurba":"B11","tonua":"b3","adina":16.05,"abiadura":3.64},{"kurba":"B11","tonua":"b3","adina":17.05,"abiadura":2.27},{"kurba":"B11","tonua":"b3","adina":18.05,"abiadura":1.49},{"kurba":"B11","tonua":"b3","adina":19.0,"abiadura":0.84},
      {"kurba":"B12","tonua":"b4","adina":10.34,"abiadura":4.4},{"kurba":"B12","tonua":"b4","adina":11.9,"abiadura":4.6},{"kurba":"B12","tonua":"b4","adina":12.5,"abiadura":4.86},{"kurba":"B12","tonua":"b4","adina":13.1,"abiadura":5.83},{"kurba":"B12","tonua":"b4","adina":13.6,"abiadura":8.43},{"kurba":"B12","tonua":"b4","adina":14.1,"abiadura":10.9},{"kurba":"B12","tonua":"b4","adina":14.5,"abiadura":9.99},{"kurba":"B12","tonua":"b4","adina":15.0,"abiadura":7.67},{"kurba":"B12","tonua":"b4","adina":15.6,"abiadura":5.35},{"kurba":"B12","tonua":"b4","adina":16.3,"abiadura":3.73},{"kurba":"B12","tonua":"b4","adina":17.3,"abiadura":2.32},{"kurba":"B12","tonua":"b4","adina":18.3,"abiadura":1.51},{"kurba":"B12","tonua":"b4","adina":19.0,"abiadura":0.86},
      {"kurba":"B13","tonua":"b2","adina":10.3,"abiadura":4.75},{"kurba":"B13","tonua":"b2","adina":11.5,"abiadura":4.91},{"kurba":"B13","tonua":"b2","adina":12.1,"abiadura":5.12},{"kurba":"B13","tonua":"b2","adina":12.7,"abiadura":5.91},{"kurba":"B13","tonua":"b2","adina":13.2,"abiadura":8.01},{"kurba":"B13","tonua":"b2","adina":13.7,"abiadura":10.0},{"kurba":"B13","tonua":"b2","adina":14.1,"abiadura":9.17},{"kurba":"B13","tonua":"b2","adina":14.6,"abiadura":7.06},{"kurba":"B13","tonua":"b2","adina":15.2,"abiadura":4.94},{"kurba":"B13","tonua":"b2","adina":15.9,"abiadura":3.47},{"kurba":"B13","tonua":"b2","adina":16.9,"abiadura":2.18},{"kurba":"B13","tonua":"b2","adina":17.9,"abiadura":1.44},{"kurba":"B13","tonua":"b2","adina":19.0,"abiadura":0.82},
      {"kurba":"B14","tonua":"b5","adina":10.6,"abiadura":4.2},{"kurba":"B14","tonua":"b5","adina":12.1,"abiadura":4.37},{"kurba":"B14","tonua":"b5","adina":12.7,"abiadura":4.59},{"kurba":"B14","tonua":"b5","adina":13.3,"abiadura":5.43},{"kurba":"B14","tonua":"b5","adina":13.8,"abiadura":7.67},{"kurba":"B14","tonua":"b5","adina":14.3,"abiadura":9.8},{"kurba":"B14","tonua":"b5","adina":14.7,"abiadura":8.99},{"kurba":"B14","tonua":"b5","adina":15.2,"abiadura":6.92},{"kurba":"B14","tonua":"b5","adina":15.8,"abiadura":4.85},{"kurba":"B14","tonua":"b5","adina":16.5,"abiadura":3.41},{"kurba":"B14","tonua":"b5","adina":17.5,"abiadura":2.15},{"kurba":"B14","tonua":"b5","adina":18.5,"abiadura":1.43},{"kurba":"B14","tonua":"b5","adina":19.0,"abiadura":0.9},
      {"kurba":"B15","tonua":"b3","adina":10.45,"abiadura":4.6},{"kurba":"B15","tonua":"b3","adina":12.0,"abiadura":4.74},{"kurba":"B15","tonua":"b3","adina":12.6,"abiadura":4.93},{"kurba":"B15","tonua":"b3","adina":13.2,"abiadura":5.63},{"kurba":"B15","tonua":"b3","adina":13.7,"abiadura":7.51},{"kurba":"B15","tonua":"b3","adina":14.2,"abiadura":9.3},{"kurba":"B15","tonua":"b3","adina":14.6,"abiadura":8.54},{"kurba":"B15","tonua":"b3","adina":15.1,"abiadura":6.58},{"kurba":"B15","tonua":"b3","adina":15.7,"abiadura":4.63},{"kurba":"B15","tonua":"b3","adina":16.4,"abiadura":3.27},{"kurba":"B15","tonua":"b3","adina":17.4,"abiadura":2.08},{"kurba":"B15","tonua":"b3","adina":18.4,"abiadura":1.4},{"kurba":"B15","tonua":"b3","adina":19.0,"abiadura":0.86},
      {"kurba":"B16","tonua":"b1","adina":11.0,"abiadura":4.0},{"kurba":"B16","tonua":"b1","adina":12.5,"abiadura":4.29},{"kurba":"B16","tonua":"b1","adina":13.1,"abiadura":4.92},{"kurba":"B16","tonua":"b1","adina":13.6,"abiadura":6.6},{"kurba":"B16","tonua":"b1","adina":14.1,"abiadura":8.2},{"kurba":"B16","tonua":"b1","adina":14.5,"abiadura":7.53},{"kurba":"B16","tonua":"b1","adina":15.0,"abiadura":5.83},{"kurba":"B16","tonua":"b1","adina":15.6,"abiadura":4.13},{"kurba":"B16","tonua":"b1","adina":16.3,"abiadura":2.95},{"kurba":"B16","tonua":"b1","adina":17.3,"abiadura":1.91},{"kurba":"B16","tonua":"b1","adina":18.3,"abiadura":1.32},{"kurba":"B16","tonua":"b1","adina":19.0,"abiadura":0.84},
      {"kurba":"B17","tonua":"b4","adina":10.25,"abiadura":5.05},{"kurba":"B17","tonua":"b4","adina":11.4,"abiadura":5.18},{"kurba":"B17","tonua":"b4","adina":12.0,"abiadura":5.35},{"kurba":"B17","tonua":"b4","adina":12.6,"abiadura":6.01},{"kurba":"B17","tonua":"b4","adina":13.1,"abiadura":7.75},{"kurba":"B17","tonua":"b4","adina":13.6,"abiadura":9.4},{"kurba":"B17","tonua":"b4","adina":14.0,"abiadura":8.63},{"kurba":"B17","tonua":"b4","adina":14.5,"abiadura":6.65},{"kurba":"B17","tonua":"b4","adina":15.1,"abiadura":4.67},{"kurba":"B17","tonua":"b4","adina":15.8,"abiadura":3.29},{"kurba":"B17","tonua":"b4","adina":16.8,"abiadura":2.09},{"kurba":"B17","tonua":"b4","adina":17.8,"abiadura":1.4},{"kurba":"B17","tonua":"b4","adina":19.0,"abiadura":0.8},
      {"kurba":"B18","tonua":"b2","adina":10.2,"abiadura":4.15},{"kurba":"B18","tonua":"b2","adina":12.2,"abiadura":4.28},{"kurba":"B18","tonua":"b2","adina":12.8,"abiadura":4.46},{"kurba":"B18","tonua":"b2","adina":13.4,"abiadura":5.13},{"kurba":"B18","tonua":"b2","adina":13.9,"abiadura":6.91},{"kurba":"B18","tonua":"b2","adina":14.4,"abiadura":8.6},{"kurba":"B18","tonua":"b2","adina":14.8,"abiadura":7.9},{"kurba":"B18","tonua":"b2","adina":15.3,"abiadura":6.1},{"kurba":"B18","tonua":"b2","adina":15.9,"abiadura":4.31},{"kurba":"B18","tonua":"b2","adina":16.6,"abiadura":3.06},{"kurba":"B18","tonua":"b2","adina":17.6,"abiadura":1.97},{"kurba":"B18","tonua":"b2","adina":18.6,"abiadura":1.25},{"kurba":"B18","tonua":"b2","adina":19.0,"abiadura":0.95},
      {"kurba":"B19","tonua":"b3","adina":10.9,"abiadura":4.3},{"kurba":"B19","tonua":"b3","adina":12.3,"abiadura":4.55},{"kurba":"B19","tonua":"b3","adina":12.9,"abiadura":5.07},{"kurba":"B19","tonua":"b3","adina":13.4,"abiadura":6.47},{"kurba":"B19","tonua":"b3","adina":13.9,"abiadura":7.8},{"kurba":"B19","tonua":"b3","adina":14.3,"abiadura":7.17},{"kurba":"B19","tonua":"b3","adina":14.8,"abiadura":5.56},{"kurba":"B19","tonua":"b3","adina":15.4,"abiadura":3.95},{"kurba":"B19","tonua":"b3","adina":16.1,"abiadura":2.83},{"kurba":"B19","tonua":"b3","adina":17.1,"abiadura":1.85},{"kurba":"B19","tonua":"b3","adina":18.1,"abiadura":1.29},{"kurba":"B19","tonua":"b3","adina":19.0,"abiadura":0.82},
      {"kurba":"B20","tonua":"b5","adina":10.7,"abiadura":4.5},{"kurba":"B20","tonua":"b5","adina":12.4,"abiadura":4.62},{"kurba":"B20","tonua":"b5","adina":13.0,"abiadura":4.77},{"kurba":"B20","tonua":"b5","adina":13.6,"abiadura":5.36},{"kurba":"B20","tonua":"b5","adina":14.1,"abiadura":6.92},{"kurba":"B20","tonua":"b5","adina":14.6,"abiadura":8.4},{"kurba":"B20","tonua":"b5","adina":15.0,"abiadura":7.72},{"kurba":"B20","tonua":"b5","adina":15.5,"abiadura":5.97},{"kurba":"B20","tonua":"b5","adina":16.1,"abiadura":4.22},{"kurba":"B20","tonua":"b5","adina":16.8,"abiadura":3.0},{"kurba":"B20","tonua":"b5","adina":17.8,"abiadura":1.94},{"kurba":"B20","tonua":"b5","adina":18.8,"abiadura":1.35},
      {"kurba":"B21","tonua":"b4","adina":10.4,"abiadura":5.25},{"kurba":"B21","tonua":"b4","adina":11.8,"abiadura":5.51},{"kurba":"B21","tonua":"b4","adina":12.4,"abiadura":6.08},{"kurba":"B21","tonua":"b4","adina":12.9,"abiadura":7.58},{"kurba":"B21","tonua":"b4","adina":13.4,"abiadura":9.0},{"kurba":"B21","tonua":"b4","adina":13.8,"abiadura":8.26},{"kurba":"B21","tonua":"b4","adina":14.3,"abiadura":6.38},{"kurba":"B21","tonua":"b4","adina":14.9,"abiadura":4.49},{"kurba":"B21","tonua":"b4","adina":15.6,"abiadura":3.18},{"kurba":"B21","tonua":"b4","adina":16.6,"abiadura":2.03},{"kurba":"B21","tonua":"b4","adina":17.6,"abiadura":1.37},{"kurba":"B21","tonua":"b4","adina":19.0,"abiadura":0.8},
      {"kurba":"B22","tonua":"b3","adina":10.55,"abiadura":4.95},{"kurba":"B22","tonua":"b3","adina":12.55,"abiadura":5.1},{"kurba":"B22","tonua":"b3","adina":13.15,"abiadura":5.29},{"kurba":"B22","tonua":"b3","adina":13.75,"abiadura":6.02},{"kurba":"B22","tonua":"b3","adina":14.25,"abiadura":7.96},{"kurba":"B22","tonua":"b3","adina":14.75,"abiadura":9.8},{"kurba":"B22","tonua":"b3","adina":15.15,"abiadura":8.99},{"kurba":"B22","tonua":"b3","adina":15.65,"abiadura":6.92},{"kurba":"B22","tonua":"b3","adina":16.25,"abiadura":4.85},{"kurba":"B22","tonua":"b3","adina":16.95,"abiadura":3.41},{"kurba":"B22","tonua":"b3","adina":17.95,"abiadura":2.15},{"kurba":"B22","tonua":"b3","adina":19.0,"abiadura":0.9}
    ]
  },
  "layer": [
    {
      "data": {"name": "kurbak"},
      "mark": {"type": "line", "interpolate": "monotone", "strokeWidth": 3.2, "strokeCap": "round", "strokeJoin": "round"},
      "encoding": {
        "x": {
          "field": "adina", "type": "quantitative",
          "scale": {"domain": [9.1208, 19.257], "nice": false, "zero": false},
          "axis": {
            "orient": "bottom",
            "values": [10, 11, 12, 13, 14, 15, 16, 17, 18, 19],
            "grid": false,
            "domainColor": "black", "domainWidth": 2.7,
            "tickColor": "black", "tickWidth": 2.5, "tickSize": 20,
            "labelFont": "DejaVu Sans", "labelFontSize": 26, "labelColor": "black", "labelPadding": 24,
            "title": "Adin kronologikoa (urteak)",
            "titleFont": "DejaVu Sans", "titleFontSize": 32, "titleFontWeight": "normal", "titleColor": "black", "titlePadding": 44
          }
        },
        "y": {
          "field": "abiadura", "type": "quantitative",
          "scale": {"domain": [-0.634, 16.643], "nice": false, "zero": false},
          "axis": {
            "values": [0, 2, 4, 6, 8, 10, 12, 14, 16],
            "grid": false,
            "domainColor": "black", "domainWidth": 2.7,
            "tickColor": "black", "tickWidth": 2.5, "tickSize": 19,
            "labelFont": "DejaVu Sans", "labelFontSize": 26, "labelColor": "black", "labelPadding": 16,
            "title": "Hazkunde-abiadura (cm/urte)",
            "titleFont": "DejaVu Sans", "titleFontSize": 32, "titleFontWeight": "normal", "titleColor": "black", "titlePadding": 42
          }
        },
        "color": {
          "field": "tonua", "type": "nominal",
          "scale": {
            "domain": ["g1","g2","g3","g4","g5","g6","n1","n2","n3","n4","n5","n6","b1","b2","b3","b4","b5"],
            "range": ["#8f0a1c","#b5121b","#e0181f","#ee3a2b","#f46d4a","#fb8e70","#00441b","#006d2c","#238b45","#41ab5d","#74c476","#a1d99b","#08519c","#2171b5","#4292c6","#6baed6","#9ecae1"]
          },
          "legend": null
        },
        "detail": {"field": "kurba", "type": "nominal"}
      }
    },
    {
      "data": {"values": [{"adina": 12.84}, {"adina": 13.83}]},
      "mark": {"type": "rule", "color": "black", "strokeWidth": 4, "strokeDash": [18, 7]},
      "encoding": {
        "x": {
          "field": "adina", "type": "quantitative",
          "axis": {"orient": "top", "labels": false, "ticks": false, "grid": false, "title": null, "domainColor": "black", "domainWidth": 2.7}
        }
      }
    },
    {
      "data": {"values": [{"taldea": "Goiztiarra"}, {"taldea": "Normala"}, {"taldea": "Berantiarra"}]},
      "mark": {"type": "square", "opacity": 0},
      "encoding": {
        "color": {
          "field": "taldea", "type": "nominal",
          "scale": {"domain": ["Goiztiarra", "Normala", "Berantiarra"], "range": ["#9e0016", "#0c6b37", "#0b3f94"]},
          "legend": {
            "title": null, "orient": "none", "legendX": 968, "legendY": 0,
            "symbolType": "square", "symbolSize": 280, "symbolOpacity": 1, "symbolStrokeWidth": 0,
            "labelFont": "DejaVu Sans", "labelFontSize": 30, "labelColor": "black", "labelOffset": 16, "labelLimit": 400,
            "rowPadding": 14, "padding": 30,
            "strokeColor": "#4d4d4d", "fillColor": "white"
          }
        }
      }
    }
  ],
  "resolve": {"scale": {"color": "independent"}, "axis": {"x": "independent"}}
}
